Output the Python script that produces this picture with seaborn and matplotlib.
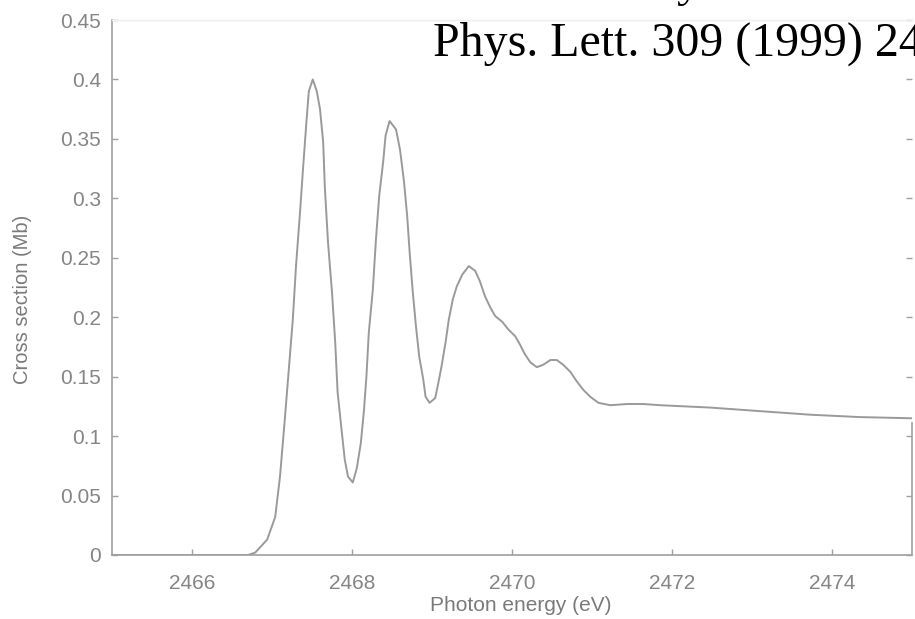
import matplotlib
matplotlib.use("Agg")
import matplotlib.pyplot as plt
import seaborn as sns
import pandas as pd
from matplotlib.ticker import FuncFormatter

# ---- data ----
energy_ev = [2465.0, 2466.0, 2466.70, 2466.79, 2466.94, 2467.04, 2467.10, 2467.16, 2467.21,
             2467.26, 2467.30, 2467.35, 2467.39, 2467.43, 2467.46, 2467.51, 2467.56, 2467.60,
             2467.64, 2467.66, 2467.70, 2467.75, 2467.79, 2467.82, 2467.87, 2467.91, 2467.95,
             2468.01, 2468.06, 2468.11, 2468.15, 2468.18, 2468.21, 2468.26, 2468.30, 2468.34,
             2468.39, 2468.42, 2468.47, 2468.55, 2468.60, 2468.65, 2468.69, 2468.72, 2468.76,
             2468.80, 2468.84, 2468.89, 2468.92, 2468.97, 2469.04, 2469.08, 2469.12, 2469.17,
             2469.21, 2469.26, 2469.31, 2469.38, 2469.46, 2469.54, 2469.60, 2469.66, 2469.73,
             2469.79, 2469.88, 2469.95, 2470.04, 2470.10, 2470.16, 2470.23, 2470.31, 2470.39,
             2470.48, 2470.56, 2470.64, 2470.73, 2470.81, 2470.89, 2470.98, 2471.08, 2471.23,
             2471.44, 2471.64, 2471.85, 2472.48, 2473.10, 2473.73, 2474.35, 2475.0]
cross_section_mb = [0.0, 0.0, 0.0, 0.002, 0.013, 0.032, 0.066, 0.114, 0.156,
                    0.198, 0.243, 0.288, 0.327, 0.364, 0.390, 0.400, 0.390, 0.375,
                    0.347, 0.310, 0.263, 0.221, 0.179, 0.137, 0.105, 0.080, 0.066,
                    0.061, 0.073, 0.094, 0.122, 0.150, 0.187, 0.223, 0.266, 0.302,
                    0.331, 0.353, 0.365, 0.358, 0.341, 0.314, 0.285, 0.255, 0.221,
                    0.192, 0.167, 0.148, 0.133, 0.128, 0.132, 0.145, 0.159, 0.179,
                    0.198, 0.215, 0.226, 0.236, 0.243, 0.239, 0.230, 0.218, 0.208,
                    0.201, 0.196, 0.190, 0.184, 0.177, 0.169, 0.162, 0.158, 0.160,
                    0.164, 0.164, 0.160, 0.154, 0.146, 0.139, 0.133, 0.128, 0.126,
                    0.127, 0.127, 0.126, 0.124, 0.121, 0.118, 0.116, 0.115]
x_ticks = [2466, 2468, 2470, 2472, 2474]
y_ticks = [0, 0.05, 0.1, 0.15, 0.2, 0.25, 0.3, 0.35, 0.4, 0.45]
x_label = "Photon energy (eV)"
y_label = "Cross section (Mb)"
overlay_text = "Phys. Lett. 309 (1999) 24"

df = pd.DataFrame({"E": energy_ev, "sigma": cross_section_mb})

sns.set_theme(style="ticks")
plt.rcParams["font.family"] = ["Liberation Sans", "DejaVu Sans"]

fig = plt.figure(figsize=(9.15, 6.19), dpi=100)
ax = fig.add_axes([112 / 915, 1 - 555 / 619, 800 / 915, 535 / 619])

sns.lineplot(data=df, x="E", y="sigma", ax=ax, color="#9a9a9a", linewidth=1.4,
             estimator=None, sort=False)

ax.set_xlim(2465, 2475)
ax.set_ylim(0, 0.45)
ax.set_xticks(x_ticks)
ax.set_yticks(y_ticks)
ax.yaxis.set_major_formatter(FuncFormatter(lambda v, p: f"{v:g}"))

for side in ["left", "bottom", "right"]:
    ax.spines[side].set_color("#a0a0a0")
    ax.spines[side].set_linewidth(1.2)
ax.spines["right"].set_bounds(0, 0.111)
ax.spines["top"].set_color("#eeeeee")
ax.spines["top"].set_linewidth(1.0)

ax.tick_params(axis="both", direction="in", length=4, width=1, color="#a0a0a0",
               labelcolor="#858585", labelsize=15)
ax.tick_params(axis="y", right=True, pad=8)
ax.tick_params(axis="x", pad=14)

ax.set_xlabel(x_label, fontsize=15, color="#7a7a7a")
ax.set_ylabel(y_label, fontsize=14.5, color="#7a7a7a")
ax.xaxis.set_label_coords(0.511, -0.076)
ax.yaxis.set_label_coords(-0.100, 0.477)

fig.text(433 / 915, 1 - 56 / 619, overlay_text, fontfamily="Liberation Serif",
         fontsize=34.5, color="black", va="baseline", ha="left")
fig.text(676 / 915, 1 + 4 / 619, "y", fontfamily="Liberation Serif",
         fontsize=34.5, color="black", va="baseline", ha="left")

fig.savefig("out.png", dpi=100)
